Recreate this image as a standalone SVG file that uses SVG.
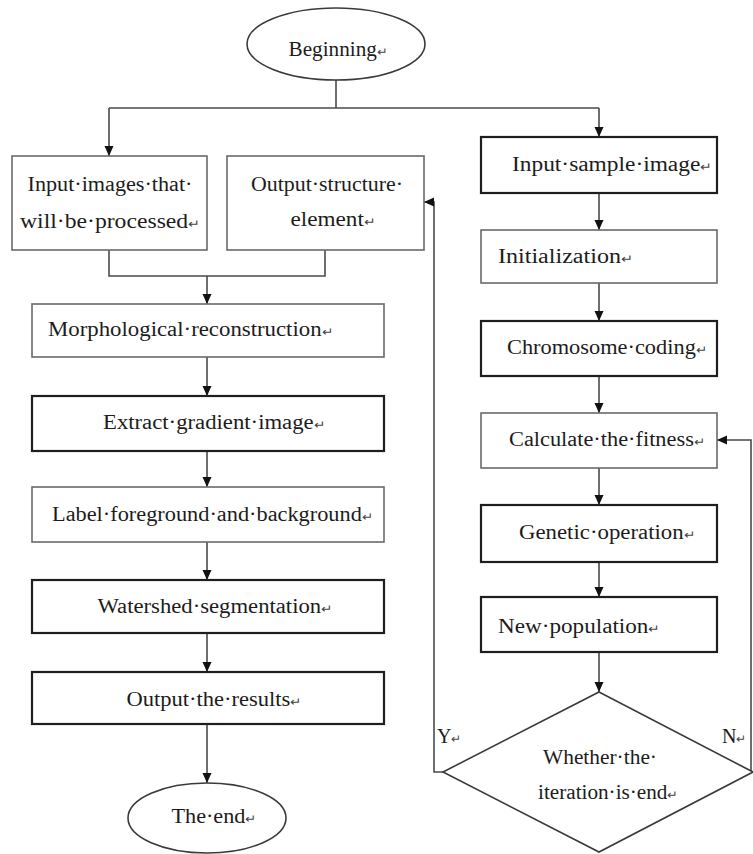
<svg xmlns="http://www.w3.org/2000/svg" width="753" height="854" viewBox="0 0 753 854">
<style>
.bg{fill:#ffffff}
.thin{fill:#ffffff;stroke:#6a6a6a;stroke-width:1.6}
.thick{fill:#ffffff;stroke:#1e1e1e;stroke-width:2.2}
.term{fill:#ffffff;stroke:#3a3a3a;stroke-width:1.6}
.t{font-family:"Liberation Serif","Times New Roman",serif;font-size:20px;fill:#1c1c1c}
.c{text-anchor:middle}
.r{font-size:12px;fill:#444444}
.conn path{fill:none;stroke:#4a4a4a;stroke-width:1.6}
</style>
<defs>
<marker id="ah" viewBox="0 0 10 10" refX="10" refY="5" markerWidth="10" markerHeight="10" markerUnits="userSpaceOnUse" orient="auto">
<path d="M0,0.5 L10,5 L0,9.5 z" fill="#111111"/>
</marker>
</defs>
<rect class="bg" x="0" y="0" width="753" height="854"/>

<g id="connectors" class="conn">
<path d="M336,80 V108"/>
<path d="M109,108 H599"/>
<path d="M109,108 V156" marker-end="url(#ah)"/>
<path d="M599,108 V137" marker-end="url(#ah)"/>
<path d="M109,250 V276 H325 V250"/>
<path d="M207,276 V304" marker-end="url(#ah)"/>
<path d="M207,357 V396" marker-end="url(#ah)"/>
<path d="M207,451 V487" marker-end="url(#ah)"/>
<path d="M207,542 V580" marker-end="url(#ah)"/>
<path d="M207,633 V672" marker-end="url(#ah)"/>
<path d="M207,724 V783" marker-end="url(#ah)"/>
<path d="M599,193 V230" marker-end="url(#ah)"/>
<path d="M599,283 V321" marker-end="url(#ah)"/>
<path d="M599,376 V413" marker-end="url(#ah)"/>
<path d="M599,468 V505" marker-end="url(#ah)"/>
<path d="M599,562 V597" marker-end="url(#ah)"/>
<path d="M599,652 V692" marker-end="url(#ah)"/>
<path d="M443,772 H434 V202 H424" marker-end="url(#ah)"/>
<path d="M751,772 V440 H717" marker-end="url(#ah)"/>
</g>

<g id="beginning">
<ellipse class="term" cx="336" cy="44" rx="89" ry="36"/>
<text class="t c" x="338" y="56" textLength="99" lengthAdjust="spacingAndGlyphs">Beginning<tspan class="r">↵</tspan></text>
</g>

<g id="input-images">
<rect class="thin" x="12" y="156" width="195" height="94"/>
<text class="t c" x="110" y="191" textLength="165" lengthAdjust="spacingAndGlyphs">Input·images·that·</text>
<text class="t c" x="110" y="228" textLength="180" lengthAdjust="spacingAndGlyphs">will·be·processed<tspan class="r">↵</tspan></text>
</g>

<g id="output-structure">
<rect class="thin" x="227" y="156" width="197" height="94"/>
<text class="t c" x="327" y="191" textLength="152" lengthAdjust="spacingAndGlyphs">Output·structure·</text>
<text class="t c" x="333" y="226" textLength="85" lengthAdjust="spacingAndGlyphs">element<tspan class="r">↵</tspan></text>
</g>

<g id="morphological">
<rect class="thin" x="32" y="304" width="352" height="53"/>
<text class="t" x="48" y="336" textLength="285" lengthAdjust="spacingAndGlyphs">Morphological·reconstruction<tspan class="r">↵</tspan></text>
</g>

<g id="extract">
<rect class="thick" x="32" y="396" width="352" height="55"/>
<text class="t c" x="214" y="429" textLength="222" lengthAdjust="spacingAndGlyphs">Extract·gradient·image<tspan class="r">↵</tspan></text>
</g>

<g id="label">
<rect class="thin" x="32" y="487" width="352" height="55"/>
<text class="t" x="52" y="521" textLength="321" lengthAdjust="spacingAndGlyphs">Label·foreground·and·background<tspan class="r">↵</tspan></text>
</g>

<g id="watershed">
<rect class="thick" x="32" y="580" width="352" height="53"/>
<text class="t c" x="215" y="613" textLength="235" lengthAdjust="spacingAndGlyphs">Watershed·segmentation<tspan class="r">↵</tspan></text>
</g>

<g id="output-results">
<rect class="thick" x="32" y="672" width="352" height="52"/>
<text class="t c" x="214" y="706" textLength="175" lengthAdjust="spacingAndGlyphs">Output·the·results<tspan class="r">↵</tspan></text>
</g>

<g id="the-end">
<ellipse class="term" cx="207" cy="818" rx="79" ry="35"/>
<text class="t c" x="214" y="823" textLength="85" lengthAdjust="spacingAndGlyphs">The·end<tspan class="r">↵</tspan></text>
</g>

<g id="input-sample">
<rect class="thick" x="481" y="137" width="236" height="56"/>
<text class="t c" x="612" y="171" textLength="200" lengthAdjust="spacingAndGlyphs">Input·sample·image<tspan class="r">↵</tspan></text>
</g>

<g id="initialization">
<rect class="thin" x="481" y="230" width="236" height="53"/>
<text class="t" x="498" y="263" textLength="135" lengthAdjust="spacingAndGlyphs">Initialization<tspan class="r">↵</tspan></text>
</g>

<g id="chromosome">
<rect class="thick" x="481" y="321" width="236" height="55"/>
<text class="t c" x="607" y="354" textLength="200" lengthAdjust="spacingAndGlyphs">Chromosome·coding<tspan class="r">↵</tspan></text>
</g>

<g id="fitness">
<rect class="thin" x="481" y="413" width="236" height="55"/>
<text class="t c" x="607" y="446" textLength="196" lengthAdjust="spacingAndGlyphs">Calculate·the·fitness<tspan class="r">↵</tspan></text>
</g>

<g id="genetic">
<rect class="thick" x="481" y="505" width="236" height="57"/>
<text class="t c" x="607" y="539" textLength="176" lengthAdjust="spacingAndGlyphs">Genetic·operation<tspan class="r">↵</tspan></text>
</g>

<g id="new-population">
<rect class="thick" x="481" y="597" width="236" height="55"/>
<text class="t" x="498" y="633" textLength="162" lengthAdjust="spacingAndGlyphs">New·population<tspan class="r">↵</tspan></text>
</g>

<g id="iteration-decision">
<polygon class="term" points="599,692 753,772 599,852 443,772"/>
<text class="t c" x="600" y="764" textLength="114" lengthAdjust="spacingAndGlyphs">Whether·the·</text>
<text class="t c" x="608" y="799" textLength="140" lengthAdjust="spacingAndGlyphs">iteration·is·end<tspan class="r">↵</tspan></text>
</g>

<g id="labels">
<text class="t" x="437" y="743">Y<tspan class="r">↵</tspan></text>
<text class="t" x="722" y="743">N<tspan class="r">↵</tspan></text>
</g>
</svg>
